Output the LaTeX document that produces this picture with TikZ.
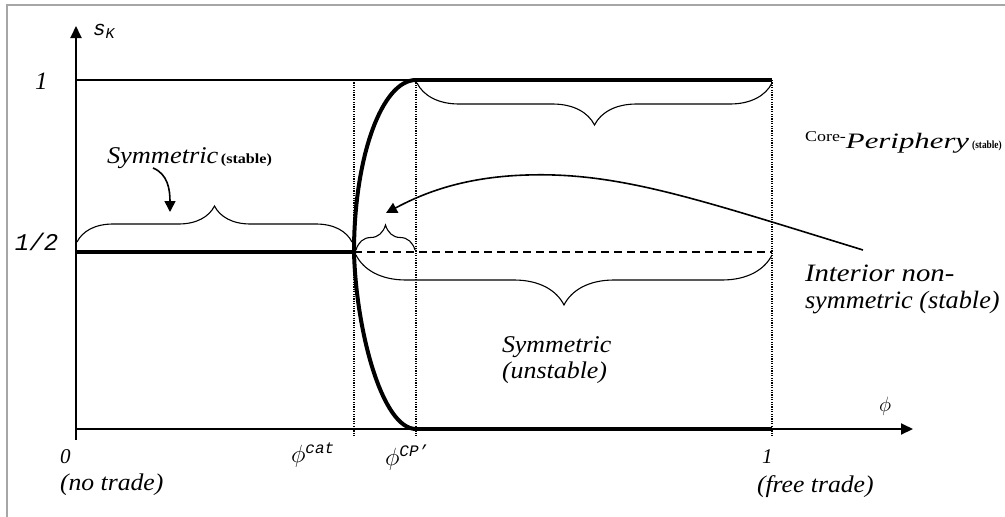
\documentclass[tikz,border=0pt]{standalone}
\usepackage{fontspec}
\setmainfont{Liberation Serif}
\newfontfamily\monofont{Liberation Mono}
\usetikzlibrary{decorations.pathreplacing,arrows.meta}
\newcommand{\fsz}[1]{\fontsize{#1}{#1}\selectfont}
\newcommand{\sx}[2]{\scalebox{#1}[1]{#2}}
\begin{document}
\begin{tikzpicture}[x=1pt,y=-1pt,
  thinln/.style={line width=1.3pt},
  thickln/.style={line width=4pt,line join=round},
  dotln/.style={line width=1.3pt,dash pattern=on 1.2pt off 1.2pt},
  axisln/.style={line width=2pt},
  br/.style={decorate,decoration={brace,amplitude=#1},line width=1.1pt},
  lbl/.style={anchor=base west,inner sep=0pt,outer sep=0pt},
  tipa/.style={-{Triangle[length=12pt,width=11pt]}},
  tipb/.style={line width=1.6pt,-{Triangle[length=11pt,width=11pt]}}
]
\useasboundingbox (0,0) rectangle (1005,517);
% frame
\draw[gray!70,line width=1.5pt] (7,517) -- (7,5) -- (1005,5);
% coordinates
\coordinate (O) at (76,429);
\coordinate (ytop) at (76,26);
\coordinate (ybot) at (76,440);
\coordinate (xend) at (913,429);
\coordinate (h0) at (76,252);
\coordinate (cat) at (354,252);
\coordinate (cpTop) at (416,80);
\coordinate (cpBot) at (416,429);
\coordinate (oneTop) at (772,80);
\coordinate (oneBot) at (772,429);
\coordinate (oneMid) at (772,252);
% axes
\draw[axisln,tipa] (ybot) -- (ytop);
\draw[axisln,tipa] (O) -- (xend);
% thin line at s=1
\draw[thinln] (76,80) -- (cpTop);
% dotted verticals
\draw[dotln] (354,80) -- (354,437);
\draw[dotln] (cpTop) -- (416,437);
\draw[dotln] (oneTop) -- (772,437);
% thick equilibrium lines
\draw[thickln] (h0) -- (cat);
\draw[thickln] (cpTop) -- (oneTop);
\draw[thickln] (cpBot) -- (oneBot);
\draw[line width=2pt,dash pattern=on 8pt off 5pt] (cat) -- (oneMid);
\draw[thickln] (cpTop) .. controls (382,80) and (354,157) .. (cat)
  .. controls (356,330) and (382,429) .. (cpBot);
% braces
\draw[br=36pt] (77,242) -- (352,242);
\draw[br=42pt] (772,83) -- (417,83);
\draw[br=25pt] (356,250) -- (415,250);
\draw[br=50pt] (772,255) -- (356,255);
% text labels
\node[lbl] (sK) at (93,35) {\monofont\itshape\fsz{21}s\raisebox{-3pt}{\fsz{15}K}};
\node[lbl] (one) at (35,89) {\itshape\fsz{25}1};
\node[lbl] (half) at (15,250) {\monofont\itshape\fsz{24}1/2};
\node[lbl] (symst) at (107,163) {\sx{1.1}{\itshape\fsz{24}Symmetric} \sx{1.15}{\bfseries\fsz{14}(stable)}};
\node[lbl] (cp) at (805,148) {\raisebox{7pt}{\sx{1.2}{\fsz{15}Core-}}\sx{1.4}{\itshape\fsz{22}Periphery}\hspace{3pt}\sx{0.85}{\bfseries\fsz{11}(stable)}};
\node[lbl] (int1) at (805,281) {\sx{1.15}{\itshape\fsz{25}Interior non-}};
\node[lbl] (int2) at (805,308) {\sx{1.05}{\itshape\fsz{25}symmetric (stable)}};
\node[lbl] (symun1) at (502,352) {\sx{1.08}{\itshape\fsz{24}Symmetric}};
\node[lbl] (symun2) at (502,378) {\sx{1.08}{\itshape\fsz{24}(unstable)}};
\node[lbl] (zero) at (60,463) {\itshape\fsz{21}0};
\node[lbl] (notrade) at (60,490) {\sx{1.07}{\itshape\fsz{24}(no trade)}};
\node[lbl] (phicat) at (291,462) {\fsz{24}$\phi$\raisebox{9pt}{\monofont\itshape\fsz{16}cat}};
\node[lbl] (phicp) at (385,465) {\fsz{24}$\phi$\raisebox{9pt}{\monofont\itshape\fsz{16}CP’}};
\node[lbl] (onex) at (762,463) {\itshape\fsz{21}1};
\node[lbl] (freetrade) at (757,492) {\sx{1.07}{\itshape\fsz{24}(free trade)}};
\node[lbl] (phiax) at (879,411) {\fsz{22}$\phi$};
% arrows
\coordinate (a1s) at (153,168);
\coordinate (a1e) at (170,212);
\draw[tipb] (a1s) .. controls (168,174) and (170,190) .. (a1e);
\coordinate (a2s) at (863,250);
\coordinate (a2m) at (527,175);
\coordinate (a2e) at (386,213);
\draw[tipb] (a2s) .. controls (700,200) and (620,172) .. (a2m)
  .. controls (460,177) and (420,195) .. (a2e);
\end{tikzpicture}
\end{document}
